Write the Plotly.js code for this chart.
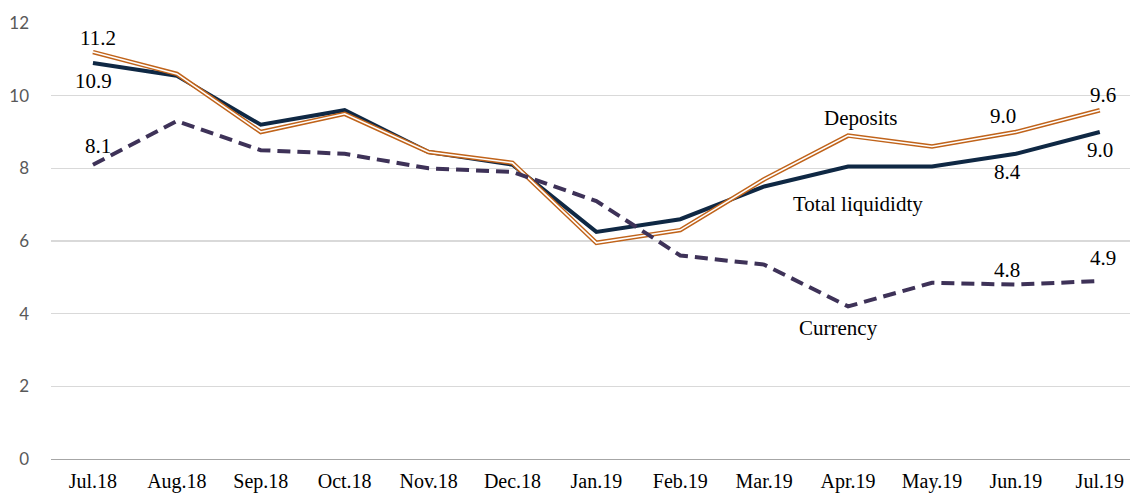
<!DOCTYPE html>
<html>
<head>
<meta charset="utf-8">
<script src="https://cdn.plot.ly/plotly-3.0.1.min.js"></script>
<style>html,body{margin:0;padding:0;background:#fff;}#chart{width:1130px;height:494px;}</style>
</head>
<body>
<div id="chart"></div>
<script>
const months = ["Jul.18","Aug.18","Sep.18","Oct.18","Nov.18","Dec.18","Jan.19","Feb.19","Mar.19","Apr.19","May.19","Jun.19","Jul.19"];
const totalLiquidity = [10.9,10.55,9.2,9.6,8.45,8.1,6.25,6.6,7.5,8.05,8.05,8.4,9.0];
const deposits = [11.2,10.6,9.0,9.5,8.45,8.15,5.95,6.3,7.7,8.9,8.6,9.0,9.6];
const currency = [8.1,9.3,8.5,8.4,8.0,7.9,7.1,5.6,5.35,4.2,4.85,4.8,4.9];
const yTicks = [0,2,4,6,8,10,12];

const navy = "#0f2844";
const orange = "#c0631a";
const purple = "#3e3258";

const traces = [
  {x: months, y: totalLiquidity, type: "scatter", mode: "lines", name: "Total liquididty",
   line: {color: navy, width: 4}, hoverinfo: "skip"},
  {x: months, y: deposits, type: "scatter", mode: "lines", name: "Deposits",
   line: {color: orange, width: 4.5}, hoverinfo: "skip"},
  {x: months, y: deposits, type: "scatter", mode: "lines", name: "Deposits inner",
   line: {color: "#ffffff", width: 1.6}, hoverinfo: "skip"},
  {x: months, y: currency, type: "scatter", mode: "lines", name: "Currency",
   line: {color: purple, width: 4, dash: "13px,7px"}, hoverinfo: "skip"}
];

const last = months.length - 1;
const lblFont = {family: "Liberation Serif, Times New Roman, serif", size: 21, color: "#000"};
function lbl(xi, yv, text, xs, ys) {
  return {x: months[xi], y: yv, text: text, showarrow: false, xshift: xs, yshift: ys,
          font: lblFont, xanchor: "center", yanchor: "middle"};
}
const annotations = [
  lbl(0, deposits[0], deposits[0].toFixed(1), 5, 14),
  lbl(0, totalLiquidity[0], totalLiquidity[0].toFixed(1), 1, -18),
  lbl(0, currency[0], currency[0].toFixed(1), 5, 19),
  lbl(11, deposits[11], deposits[11].toFixed(1), -13, 16),
  lbl(last, deposits[last], deposits[last].toFixed(1), 3, 15),
  lbl(last, totalLiquidity[last], totalLiquidity[last].toFixed(1), 0, -18),
  lbl(11, totalLiquidity[11], totalLiquidity[11].toFixed(1), -8, -18),
  lbl(11, currency[11], currency[11].toFixed(1), -9, 15),
  lbl(last, currency[last], currency[last].toFixed(1), 3, 23),
  lbl(9, 9.39, "Deposits", 13, 0),
  lbl(9, 7.02, "Total liquididty", 10, 0),
  lbl(9, 3.61, "Currency", -10, 0)
];

const layout = {
  width: 1130, height: 494,
  margin: {l: 51, r: 0, t: 23, b: 35},
  paper_bgcolor: "#ffffff", plot_bgcolor: "#ffffff",
  showlegend: false,
  xaxis: {
    type: "category", range: [-0.5, 12.36], automargin: false,
    showgrid: false, zeroline: false, showline: true, linecolor: "#a6a6a6", linewidth: 1.3,
    ticks: "", ticklabelstandoff: 4,
    tickfont: {family: "Liberation Serif, Times New Roman, serif", size: 20, color: "#000"}
  },
  yaxis: {
    range: [0, 12], automargin: false, tickvals: yTicks, ticktext: yTicks.map(String),
    showgrid: true, gridcolor: "#d9d9d9", gridwidth: 1.2, zeroline: false, showline: false,
    ticks: "", ticklabelstandoff: 21,
    tickfont: {family: "Lato, Liberation Sans, sans-serif", size: 17, color: "#595959"}
  },
  annotations: annotations
};

Plotly.newPlot("chart", traces, layout, {staticPlot: true, displayModeBar: false});
</script>
</body>
</html>
